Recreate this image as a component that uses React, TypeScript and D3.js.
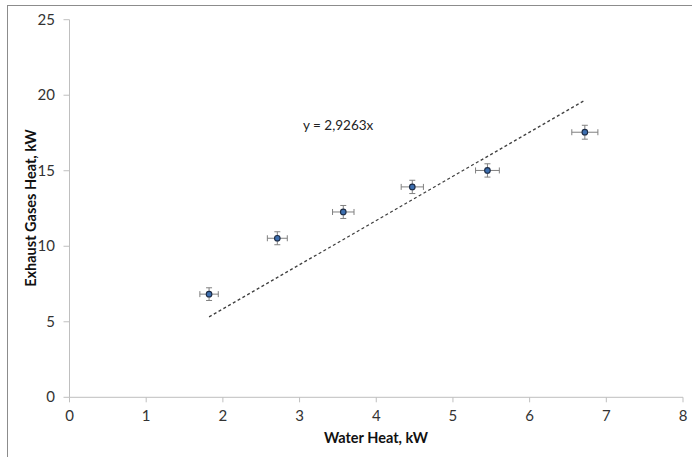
import React from 'react'
import * as d3 from 'd3'

const waterHeat = [1.82, 2.71, 3.57, 4.47, 5.45, 6.72]
const exhaustHeat = [6.83, 10.53, 12.27, 13.93, 15.02, 17.55]
const xErr = [0.12, 0.13, 0.14, 0.145, 0.155, 0.17]
const yErr = [0.42, 0.43, 0.43, 0.44, 0.44, 0.46]
const slope = 2.9263
const xTicks = [0, 1, 2, 3, 4, 5, 6, 7, 8]
const yTicks = [0, 5, 10, 15, 20, 25]

const W = 692
const H = 457
const font = 'Lato, "Open Sans", sans-serif'

const App = () => {
    const x = d3.scaleLinear().domain([0, 8]).range([69.5, 683])
    const y = d3.scaleLinear().domain([0, 25]).range([397.3, 19.7])

    const pts = waterHeat.map((v, i) => ({ x: v, y: exhaustHeat[i], ex: xErr[i], ey: yErr[i] }))
    const xMin = d3.min(waterHeat)
    const xMax = d3.max(waterHeat)
    const trend = d3.line().x(d => x(d[0])).y(d => y(d[1]))([
        [xMin, xMin * slope],
        [xMax, xMax * slope],
    ])

    return (
        <svg width={W} height={H} style={{ position: 'absolute', left: 0, top: 0 }}>
            <rect width={W} height={H} fill='#fff' />
            {/* outer frame (only top and left visible) */}
            <line x1={7} x2={W} y1={5.5} y2={5.5} stroke='#8c8c8c' />
            <line x1={7.5} x2={7.5} y1={5} y2={H} stroke='#8c8c8c' />

            {/* axes */}
            <line x1={x(0)} x2={x(0)} y1={y(25)} y2={y(0)} stroke='#bfbfbf' />
            <line x1={x(0)} x2={x(8)} y1={y(0)} y2={y(0)} stroke='#bfbfbf' />
            {yTicks.map(t => (
                <g key={'y' + t}>
                    <line x1={x(0) - 6} x2={x(0)} y1={y(t)} y2={y(t)} stroke='#bfbfbf' />
                    <text x={55} y={y(t) + 5} textAnchor='end' fontSize={15} fontFamily={font} fill='#333'>{t}</text>
                </g>
            ))}
            {xTicks.map(t => (
                <g key={'x' + t}>
                    <line x1={x(t)} x2={x(t)} y1={y(0)} y2={y(0) + 5} stroke='#bfbfbf' />
                    <text x={x(t)} y={421} textAnchor='middle' fontSize={15} fontFamily={font} fill='#333'>{t}</text>
                </g>
            ))}

            {/* trend line */}
            <path d={trend} fill='none' stroke='#404040' strokeWidth={1.3} strokeDasharray='3,2.5' />
            <text x={303} y={130} fontSize={13.5} fontFamily={font} fill='#222'>y = 2,9263x</text>

            {/* error bars + points */}
            {pts.map((p, i) => (
                <g key={i} stroke='#808080' strokeWidth={1}>
                    <line x1={x(p.x - p.ex)} x2={x(p.x + p.ex)} y1={y(p.y)} y2={y(p.y)} />
                    <line x1={x(p.x - p.ex)} x2={x(p.x - p.ex)} y1={y(p.y) - 3} y2={y(p.y) + 3} />
                    <line x1={x(p.x + p.ex)} x2={x(p.x + p.ex)} y1={y(p.y) - 3} y2={y(p.y) + 3} />
                    <line x1={x(p.x)} x2={x(p.x)} y1={y(p.y - p.ey)} y2={y(p.y + p.ey)} />
                    <line x1={x(p.x) - 3} x2={x(p.x) + 3} y1={y(p.y - p.ey)} y2={y(p.y - p.ey)} />
                    <line x1={x(p.x) - 3} x2={x(p.x) + 3} y1={y(p.y + p.ey)} y2={y(p.y + p.ey)} />
                    <circle cx={x(p.x)} cy={y(p.y)} r={2.8} fill='#3d6fb0' stroke='#1c2b45' strokeWidth={1.1} />
                </g>
            ))}

            {/* axis titles */}
            <text x={376} y={443} textAnchor='middle' fontSize={14.5} fontWeight='bold' fontFamily={font} fill='#111'>Water Heat, kW</text>
            <text transform={`translate(36, 208) rotate(-90)`} textAnchor='middle' fontSize={14.5} fontWeight='bold' fontFamily={font} fill='#111'>Exhaust Gases Heat, kW</text>
        </svg>
    )
}

export default App
